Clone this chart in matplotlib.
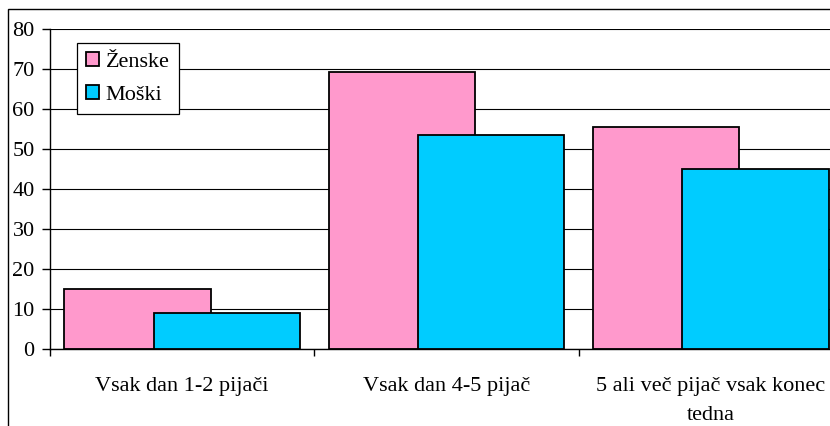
import numpy as np
import matplotlib
matplotlib.use("Agg")
import matplotlib.pyplot as plt
from matplotlib.patches import Rectangle

categories = ["Vsak dan 1-2 pijači", "Vsak dan 4-5 pijač", "5 ali več pijač vsak konec\ntedna"]
zenske = [15, 69.2, 55.4]
moski = [9, 53.5, 44.9]
yticks = [0, 10, 20, 30, 40, 50, 60, 70, 80]

plt.rcParams['font.family'] = ['Liberation Serif', 'DejaVu Serif']
plt.rcParams['font.size'] = 16

W, H = 830, 426
fig = plt.figure(figsize=(W / 100, H / 100), dpi=100)

# plot area runs past the right edge of the image
left, right, top, bottom = 50, 843, 29, 349
ax = fig.add_axes([left / W, 1 - bottom / H, (right - left) / W, (bottom - top) / H])

# outer chart border, only top and left sides are in view
fig.patches.append(Rectangle((8 / W, -0.1), 1.2, 1 - 9 / H + 0.1, transform=fig.transFigure,
                             fill=False, edgecolor='black', lw=1.0, clip_on=False))

x = np.arange(len(categories))
bw = 0.553
off = 0.169
ax.bar(x - off, zenske, bw, color='#FF99CC', edgecolor='black', lw=1.3, label='Ženske', zorder=2)
ax.bar(x + off, moski, bw, color='#00CCFF', edgecolor='black', lw=1.3, label='Moški', zorder=3)

ax.set_xlim(-0.5, 2.5)
ax.set_ylim(0, 80)
ax.set_yticks(yticks)
ax.yaxis.grid(True, color='black', lw=0.8, zorder=0)
ax.set_axisbelow(True)

ax.set_xticks(x)
ax.set_xticklabels(categories, linespacing=1.75)
ax.set_xticks([-0.5, 0.5, 1.5, 2.5], minor=True)
ax.tick_params(axis='x', which='major', length=0, pad=20)
ax.tick_params(axis='x', which='minor', length=5, width=1, direction='out')
ax.tick_params(axis='y', length=6, width=1, direction='out', pad=5)

for s in ['top', 'right']:
    ax.spines[s].set_visible(False)
for s in ['left', 'bottom']:
    ax.spines[s].set_linewidth(1.0)

leg = ax.legend(loc='upper left', bbox_to_anchor=(0.034, 0.956), borderaxespad=0,
                fancybox=False, edgecolor='black', framealpha=1,
                handlelength=0.6, handleheight=0.6, handletextpad=0.3,
                labelspacing=0.6, borderpad=0.4)
leg.get_frame().set_linewidth(0.9)

fig.savefig("out.png", dpi=100)
